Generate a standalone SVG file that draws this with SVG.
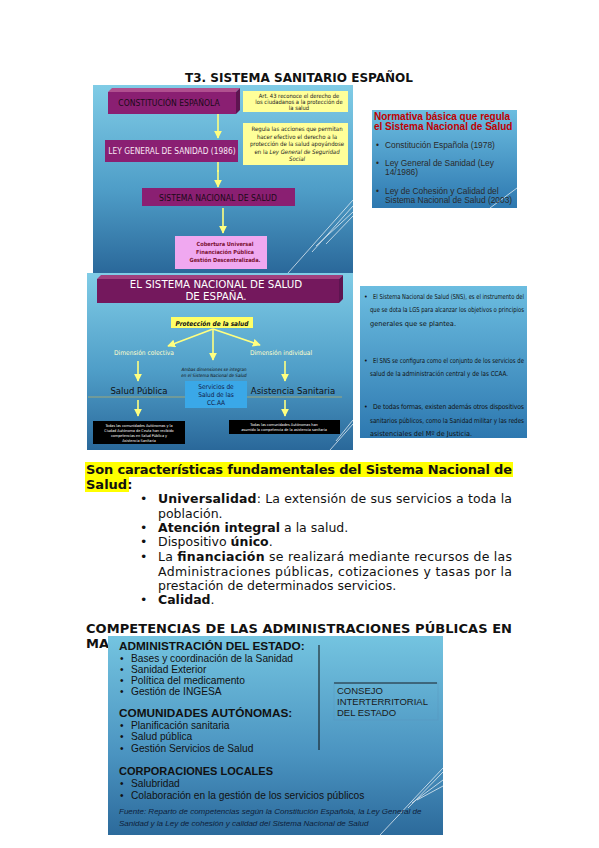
<svg xmlns="http://www.w3.org/2000/svg" width="599" height="848" viewBox="0 0 599 848">
<defs>
<linearGradient id="gs" x1="0" y1="0" x2="0" y2="1">
<stop offset="0" stop-color="#80cce6"/>
<stop offset="0.55" stop-color="#4f9ec8"/>
<stop offset="1" stop-color="#2a689a"/>
</linearGradient>
<linearGradient id="gs2" x1="0" y1="0" x2="0" y2="1">
<stop offset="0" stop-color="#74c4e0"/>
<stop offset="0.6" stop-color="#4a93c0"/>
<stop offset="1" stop-color="#2c6a9b"/>
</linearGradient>
<linearGradient id="gr" x1="0" y1="0" x2="0" y2="1">
<stop offset="0" stop-color="#6cbde0"/>
<stop offset="1" stop-color="#2d78b0"/>
</linearGradient>
<marker id="ay" viewBox="0 0 10 10" refX="9" refY="5" markerWidth="5" markerHeight="5" orient="auto">
<path d="M0,0 L10,5 L0,10 z" fill="#ffff80"/>
</marker>
<style>
.doc{font-family:"DejaVu Sans",Verdana,sans-serif;fill:#111}
.b{font-weight:bold}
.sl{font-family:"DejaVu Sans Condensed","DejaVu Sans",sans-serif}
.dj{font-family:"DejaVu Sans",sans-serif}
.lib{font-family:"Liberation Sans",Arial,sans-serif}
.ya{stroke:#ffff80;stroke-width:1.6;fill:none;marker-end:url(#ay)}
.deco{stroke:#ffffff;stroke-width:0.8;opacity:0.85}
.purp{fill:#8a1f72}
.purps{fill:#5e1450}
</style>
</defs>
<rect width="599" height="848" fill="#ffffff"/>

<text class="doc b" x="185" y="82" font-size="13" textLength="228" lengthAdjust="spacingAndGlyphs">T3. SISTEMA SANITARIO ESPAÑOL</text>

<!-- Slide 1 -->
<g id="slide1">
<rect x="93" y="85" width="260" height="188" fill="url(#gs)"/>
<g class="deco">
<line x1="288" y1="273" x2="353" y2="200"/>
<line x1="312" y1="252" x2="353" y2="206"/>
<line x1="316" y1="246" x2="353" y2="212"/>
<line x1="326" y1="244" x2="353" y2="216"/>
</g>
</g>
<g id="connectors1">
<line class="ya" x1="218" y1="113" x2="218" y2="138"/>
<line x1="218" y1="162" x2="218" y2="172" stroke="#ffff80" stroke-width="1.6"/>
<line class="ya" x1="218" y1="170" x2="218" y2="187"/>
<line class="ya" x1="223" y1="208" x2="223" y2="233"/>
</g>
<g id="n-constitucion">
<polygon points="108,92 112,88 240,88 236,92" fill="#b0508f"/>
<polygon points="236,92 240,88 240,110 236,114" class="purps"/>
<rect x="108" y="92" width="128" height="22" class="purp"/>
<text class="sl" x="169" y="106" font-size="8.5" fill="#1a0a18" text-anchor="middle">CONSTITUCIÓN ESPAÑOLA</text>
</g>
<g id="n-art43">
<rect x="243" y="91" width="105" height="21" fill="#ffff99"/>
<text class="sl" font-size="5.8" fill="#222" text-anchor="middle"><tspan x="299" y="97.5">Art. 43 reconoce el derecho de</tspan><tspan x="299" y="103.5">los ciudadanos a la protección de</tspan><tspan x="299" y="109.5">la salud</tspan></text>
</g>
<g id="n-ley">
<rect x="105" y="140" width="133" height="22" class="purp"/>
<text class="sl" x="172" y="154" font-size="8.3" fill="#f8e8f4" text-anchor="middle">LEY GENERAL DE SANIDAD (1986)</text>
</g>
<g id="n-regula">
<rect x="243" y="123" width="105" height="42" fill="#ffff99"/>
<text class="sl" font-size="6" fill="#222" text-anchor="middle"><tspan x="297" y="131">Regula las acciones que permitan</tspan><tspan x="297" y="138.5">hacer efectivo el derecho a la</tspan><tspan x="297" y="146">protección de la salud apoyándose</tspan><tspan x="297" y="153.5">en la <tspan font-style="italic">Ley General de Seguridad</tspan></tspan><tspan x="297" y="161" font-style="italic">Social</tspan></text>
</g>
<g id="n-sns">
<rect x="142" y="188" width="153" height="18" class="purp"/>
<text class="sl" x="218" y="200.5" font-size="8.6" fill="#1a0a18" text-anchor="middle">SISTEMA NACIONAL DE SALUD</text>
</g>
<g id="n-cobertura">
<rect x="175" y="236" width="92" height="33" fill="#f0a8f0"/>
<text class="sl" font-size="5.6" fill="#7a1030" text-anchor="middle" font-weight="bold"><tspan x="225" y="246">Cobertura Universal</tspan><tspan x="225" y="254">Financiación Pública</tspan><tspan x="225" y="262">Gestión Descentralizada.</tspan></text>
</g>

<!-- Right box 1 -->
<g id="normativa">
<rect x="372" y="110" width="145" height="98" fill="url(#gr)"/>
<line class="deco" x1="490" y1="208" x2="517" y2="188"/>
<text class="lib b" font-size="10" fill="#c00000"><tspan x="374" y="120">Normativa básica que regula</tspan><tspan x="374" y="130">el Sistema Nacional de Salud</tspan></text>
<g class="lib" font-size="8.4" fill="#2a2a2a">
<text x="376" y="148">•</text><text x="385" y="148">Constitución Española (1978)</text>
<text x="376" y="166">•</text><text x="385" y="166">Ley General de Sanidad (Ley</text>
<text x="385" y="175">14/1986)</text>
<text x="376" y="194">•</text><text x="385" y="194">Ley de Cohesión y Calidad del</text>
<text x="385" y="203">Sistema Nacional de Salud (2003)</text>
</g>
</g>

<!-- Slide 2 -->
<g id="slide2">
<rect x="87" y="273" width="266" height="177" fill="url(#gs)"/>
<g class="deco">
<line x1="330" y1="450" x2="353" y2="424"/>
<line x1="336" y1="441" x2="353" y2="420"/>
</g>
</g>
<g id="n-banner">
<polygon points="97,279 101,275 343,275 339,279" fill="#a0407e"/>
<polygon points="339,279 343,275 343,299 339,303" class="purps"/>
<rect x="97" y="279" width="242" height="24" fill="#74185d"/>
<text class="dj" font-size="10.3" fill="#ffffff" text-anchor="middle"><tspan x="216" y="288">EL SISTEMA NACIONAL DE SALUD</tspan><tspan x="216" y="299.5">DE ESPAÑA.</tspan></text>
</g>
<g id="connectors2">
<line class="ya" x1="213" y1="329" x2="168" y2="346"/>
<line class="ya" x1="213" y1="329" x2="260" y2="345"/>
<line class="ya" x1="213" y1="329" x2="213" y2="360"/>
<line class="ya" x1="138" y1="361" x2="138" y2="381"/>
<line class="ya" x1="285" y1="361" x2="285" y2="381"/>
<line class="ya" x1="138" y1="400" x2="138" y2="416"/>
<line class="ya" x1="285" y1="400" x2="285" y2="416"/>
<line x1="88" y1="397" x2="342" y2="397" stroke="#b7b06a" stroke-width="0.8"/>
</g>
<g id="n-proteccion">
<rect x="171" y="317" width="82" height="11" fill="#ffff66"/>
<text class="sl" x="212" y="325.5" font-size="6.5" fill="#111" font-weight="bold" font-style="italic" text-anchor="middle">Protección de la salud</text>
</g>
<g id="n-colectiva"><text class="sl" x="144" y="355" font-size="6.6" fill="#ffffcc" text-anchor="middle">Dimensión colectiva</text></g>
<g id="n-individual"><text class="sl" x="281" y="355" font-size="6.6" fill="#ffffcc" text-anchor="middle">Dimensión individual</text></g>
<g id="n-ambas"><text class="sl" font-size="4.5" fill="#111" text-anchor="middle" font-style="italic"><tspan x="214" y="371">Ambas dimensiones se integran</tspan><tspan x="214" y="377">en el Sistema Nacional de Salud</tspan></text></g>
<g id="n-saludpublica"><text class="sl" x="139" y="394" font-size="9.5" fill="#111" text-anchor="middle">Salud Pública</text></g>
<g id="n-servicios">
<rect x="185" y="381" width="62" height="27" fill="#3aa8e8"/>
<text class="sl" font-size="6.5" fill="#10204a" text-anchor="middle"><tspan x="216" y="389">Servicios de</tspan><tspan x="216" y="397">Salud de las</tspan><tspan x="216" y="405">CC.AA</tspan></text>
</g>
<g id="n-asistencia"><text class="sl" x="293" y="394" font-size="9.5" fill="#111" text-anchor="middle">Asistencia Sanitaria</text></g>
<g id="n-todas1">
<rect x="93" y="421" width="92" height="23" fill="#000"/>
<text class="sl" font-size="3.8" fill="#fff" text-anchor="middle"><tspan x="139" y="427">Todas las comunidades Autónomas y la</tspan><tspan x="139" y="432">Ciudad Autónoma de Ceuta han recibido</tspan><tspan x="139" y="437">competencias en Salud Pública y</tspan><tspan x="139" y="442">Asistencia Sanitaria</tspan></text>
</g>
<g id="n-todas2">
<rect x="229" y="420" width="111" height="14" fill="#000"/>
<text class="sl" font-size="3.8" fill="#fff" text-anchor="middle"><tspan x="284" y="426">Todas las comunidades Autónomas han</tspan><tspan x="284" y="431">asumido la competencia de la asistencia sanitaria</tspan></text>
</g>

<!-- Right box 2 -->
<g id="sns-text">
<rect x="360" y="286" width="167" height="152" fill="url(#gr)"/>
<g class="sl" font-size="6.8" fill="#111">
<text x="364" y="299">•</text>
<text x="373" y="299" textLength="151" lengthAdjust="spacingAndGlyphs">El Sistema Nacional de Salud (SNS), es el instrumento del</text>
<text x="370" y="312" textLength="154" lengthAdjust="spacingAndGlyphs">que se dota la LGS para alcanzar los objetivos o principios</text>
<text x="370" y="326" textLength="86" lengthAdjust="spacingAndGlyphs">generales que se plantea.</text>
<text x="364" y="363">•</text>
<text x="373" y="363" textLength="151" lengthAdjust="spacingAndGlyphs">El SNS se configura como el conjunto de los servicios de</text>
<text x="370" y="376" textLength="138" lengthAdjust="spacingAndGlyphs">salud de la administración central y de las CCAA.</text>
<text x="364" y="409">•</text>
<text x="373" y="409" textLength="151" lengthAdjust="spacing">De todas formas, existen además otros dispositivos</text>
<text x="370" y="423" textLength="154" lengthAdjust="spacingAndGlyphs">sanitarios públicos, como la Sanidad militar y las redes</text>
<text x="370" y="436" textLength="102" lengthAdjust="spacingAndGlyphs">asistenciales del Mº de Justicia.</text>
</g>
</g>

<!-- Document text -->
<g id="caracteristicas">
<rect x="85" y="462" width="428" height="15" fill="#ffff00"/>
<rect x="85" y="477" width="44" height="15" fill="#ffff00"/>
<text class="doc b" x="86" y="474" font-size="13" textLength="426" lengthAdjust="spacing">Son características fundamentales del Sistema Nacional de</text>
<text class="doc b" x="86" y="489" font-size="13">Salud:</text>
<g class="doc" font-size="12.5">
<text x="140" y="503">•</text>
<text x="158" y="503" textLength="354" lengthAdjust="spacing"><tspan font-weight="bold">Universalidad</tspan>: La extensión de sus servicios a toda la</text>
<text x="158" y="518">población.</text>
<text x="140" y="532">•</text>
<text x="158" y="532"><tspan font-weight="bold">Atención integral</tspan> a la salud.</text>
<text x="140" y="546">•</text>
<text x="158" y="546">Dispositivo <tspan font-weight="bold">único</tspan>.</text>
<text x="140" y="561">•</text>
<text x="158" y="561" textLength="354" lengthAdjust="spacing">La <tspan font-weight="bold">financiación</tspan> se realizará mediante recursos de las</text>
<text x="158" y="576" textLength="354" lengthAdjust="spacing">Administraciones públicas, cotizaciones y tasas por la</text>
<text x="158" y="590">prestación de determinados servicios.</text>
<text x="140" y="604">•</text>
<text x="158" y="604"><tspan font-weight="bold">Calidad</tspan>.</text>
</g>
</g>

<g id="competencias-title">
<text class="doc b" x="86" y="633" font-size="13" textLength="426" lengthAdjust="spacing">COMPETENCIAS DE LAS ADMINISTRACIONES PÚBLICAS EN</text>
<text class="doc b" x="86" y="648" font-size="13">MA</text>
</g>

<!-- Slide 3 -->
<g id="slide3">
<rect x="108" y="636" width="335" height="199" fill="url(#gs2)"/>
<g class="deco">
<line x1="380" y1="835" x2="443" y2="768"/>
<line x1="408" y1="808" x2="443" y2="772"/>
<line x1="412" y1="803" x2="443" y2="780"/>
<line x1="417" y1="800" x2="443" y2="786"/>
</g>
<line x1="319" y1="645" x2="319" y2="750" stroke="#111" stroke-width="1"/>
<line x1="334" y1="683" x2="437" y2="683" stroke="#111" stroke-width="1"/>
<rect x="334" y="683" width="104" height="37" fill="none" stroke="#5a8fb5" stroke-width="0.5" opacity="0.6"/>
</g>
<g id="n-estado" class="lib" fill="#111">
<text x="119" y="650" font-size="11.8" font-weight="bold">ADMINISTRACIÓN DEL ESTADO:</text>
<g font-size="10.2">
<text x="120" y="662">•</text><text x="131" y="662">Bases y coordinación de la Sanidad</text>
<text x="120" y="673">•</text><text x="131" y="673">Sanidad Exterior</text>
<text x="120" y="684">•</text><text x="131" y="684">Política del medicamento</text>
<text x="120" y="695">•</text><text x="131" y="695">Gestión de INGESA</text>
</g>
</g>
<g id="n-ccaa" class="lib" fill="#111">
<text x="119" y="717" font-size="11.8" font-weight="bold">COMUNIDADES AUTÓNOMAS:</text>
<g font-size="10.2">
<text x="120" y="729">•</text><text x="131" y="729">Planificación sanitaria</text>
<text x="120" y="740">•</text><text x="131" y="740">Salud pública</text>
<text x="120" y="752">•</text><text x="131" y="752">Gestión Servicios de Salud</text>
</g>
</g>
<g id="n-consejo" class="lib" fill="#1a1a1a" font-size="9.5">
<text x="337" y="694">CONSEJO</text>
<text x="337" y="705">INTERTERRITORIAL</text>
<text x="337" y="716">DEL ESTADO</text>
</g>
<g id="n-locales" class="lib" fill="#111">
<text x="119" y="775" font-size="11" font-weight="bold">CORPORACIONES LOCALES</text>
<g font-size="10.2">
<text x="120" y="787">•</text><text x="131" y="787">Salubridad</text>
<text x="120" y="799">•</text><text x="131" y="799">Colaboración en la gestión de los servicios públicos</text>
</g>
</g>
<g id="n-fuente" class="lib" fill="#0e1e3a" font-size="8" font-style="italic">
<text x="119" y="814">Fuente: Reparto de competencias según la Constitución Española, la Ley General de</text>
<text x="119" y="826">Sanidad y la Ley de cohesión y calidad del Sistema Nacional de Salud</text>
</g>
</svg>
